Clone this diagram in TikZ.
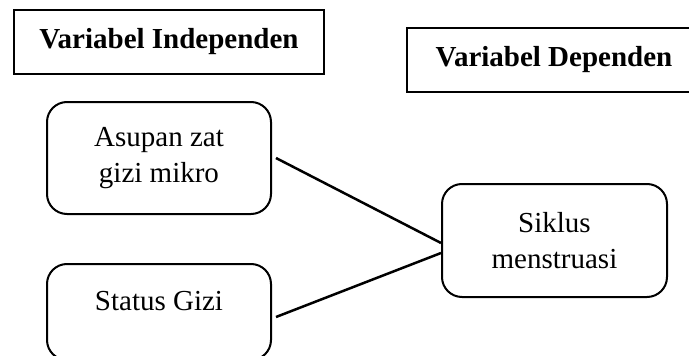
\documentclass[tikz,border=0pt]{standalone}
\usepackage{fontspec}
\setmainfont{Liberation Serif}
\usepackage{tikz}
\newcommand{\boxfont}{\fontsize{29}{36}\selectfont}
\tikzstyle{varlabel}=[draw, line width=2.4pt, inner sep=0, minimum width=310, minimum height=64, font=\boxfont\bfseries]
\tikzstyle{varbox}=[draw, line width=2pt, rounded corners=20pt, inner sep=0, align=center,
                    minimum width=224, minimum height=112, font=\boxfont]
\tikzstyle{link}=[line width=2.5pt]

\begin{document}
\begin{tikzpicture}[x=1pt, y=-1pt]
        \useasboundingbox (0, 0) rectangle (689, 356);
        \clip (0, 0) rectangle (689, 356);
        % Headers for both groups of variables.
        \node[varlabel] (indep) at (169, 42) {Variabel Independen};
        \node[varlabel, minimum width=294] (dep) at (554, 60) {Variabel Dependen};
        % Variables.
        \node[varbox] (asupan) at (159, 158) {Asupan zat\\gizi mikro};
        \node[varbox, minimum height=0, text height=46, text depth=50] (status) at (159, 312) {Status Gizi};
        \node[varbox, minimum width=225, minimum height=113] (siklus) at (554.5, 240.5) {Siklus\\menstruasi};
        \draw[link] ([xshift=4pt]asupan.east) -- ([yshift=-2.5pt]siklus.west);
        \draw[link] ([xshift=4pt, yshift=-5pt]status.east) -- ([yshift=-12.5pt]siklus.west);
    \end{tikzpicture}
\end{document}
